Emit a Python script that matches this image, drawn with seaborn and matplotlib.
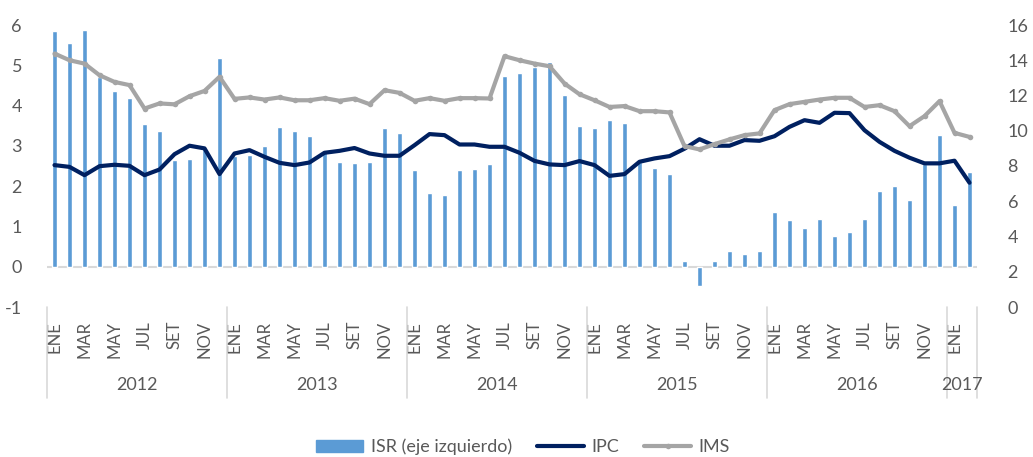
import numpy as np
import pandas as pd
import seaborn as sns
import matplotlib.pyplot as plt
from matplotlib.lines import Line2D
from matplotlib.patches import Patch
import matplotlib.transforms as mtransforms

# data, monthly Jan 2012 - Feb 2017
years = ["2012", "2013", "2014", "2015", "2016", "2017"]
months = ["ENE", "FEB", "MAR", "ABR", "MAY", "JUN", "JUL", "AGO", "SET", "OCT", "NOV", "DIC"]
n_months = [12, 12, 12, 12, 12, 2]

isr = [5.84, 5.55, 5.87, 4.72, 4.37, 4.20, 3.54, 3.38, 2.64, 2.67, 2.95, 5.18,
       2.75, 2.78, 2.99, 3.47, 3.38, 3.25, 2.85, 2.61, 2.57, 2.61, 3.44, 3.33,
       2.41, 1.83, 1.77, 2.41, 2.43, 2.54, 4.73, 4.81, 4.95, 5.08, 4.25, 3.49,
       3.44, 3.65, 3.57, 2.60, 2.46, 2.31, 0.13, -0.47, 0.13, 0.40, 0.32, 0.40,
       1.35, 1.17, 0.95, 1.19, 0.77, 0.85, 1.19, 1.88, 2.01, 1.66, 2.55, 3.28,
       1.54, 2.35]

ipc = [8.05, 7.95, 7.48, 7.99, 8.07, 8.01, 7.48, 7.80, 8.67, 9.15, 9.00, 7.54,
       8.71, 8.90, 8.52, 8.18, 8.05, 8.20, 8.75, 8.86, 9.02, 8.71, 8.58, 8.58,
       9.18, 9.81, 9.75, 9.22, 9.22, 9.09, 9.09, 8.75, 8.29, 8.09, 8.05, 8.28,
       8.05, 7.44, 7.54, 8.24, 8.43, 8.56, 8.98, 9.52, 9.15, 9.15, 9.47, 9.43,
       9.69, 10.22, 10.60, 10.45, 11.02, 11.00, 10.03, 9.37, 8.86, 8.47, 8.15, 8.15,
       8.30, 7.05]

ims = [14.38, 14.00, 13.81, 13.15, 12.77, 12.59, 11.26, 11.55, 11.50, 11.96, 12.26, 13.06,
       11.81, 11.89, 11.77, 11.89, 11.73, 11.73, 11.85, 11.70, 11.82, 11.51, 12.30, 12.15,
       11.70, 11.85, 11.70, 11.85, 11.85, 11.83, 14.23, 14.00, 13.81, 13.66, 12.68, 12.07,
       11.73, 11.35, 11.40, 11.11, 11.11, 11.04, 9.13, 8.94, 9.24, 9.51, 9.75, 9.85,
       11.17, 11.51, 11.64, 11.77, 11.87, 11.87, 11.35, 11.45, 11.11, 10.26, 10.83, 11.68,
       9.88, 9.65]

sns.set_style("white")
plt.rcParams['font.family'] = ['Lato', 'DejaVu Sans']
plt.rcParams['axes.unicode_minus'] = False

bar_col = "#5B9BD5"
ipc_col = "#002060"
ims_col = "#A5A5A5"
txt_col = "#595959"
sep_col = "#D9D9D9"

idx = np.arange(len(isr))
df = pd.DataFrame({"i": idx, "ISR": isr, "IPC": ipc, "IMS": ims})

W, H = 1033, 457
fig = plt.figure(figsize=(W / 100, H / 100), dpi=100)
ax = fig.add_axes([47 / W, 1 - 307 / H, 930 / W, 282 / H])

sns.barplot(data=df, x="i", y="ISR", color=bar_col, saturation=1, width=0.32, ax=ax)
ax.axhline(0, color=sep_col, lw=1.5, zorder=0)

ax2 = ax.twinx()
sns.lineplot(data=df, x="i", y="IPC", color=ipc_col, lw=3, ax=ax2)
sns.lineplot(data=df, x="i", y="IMS", color=ims_col, lw=3, marker="o", markersize=4,
             markeredgewidth=0, ax=ax2)

ax.set_xlim(-0.5, len(isr) - 0.5)
ax.set_ylim(-1, 6)
ax2.set_ylim(0, 16)
ax.set_yticks(range(-1, 7))
ax2.set_yticks(range(0, 17, 2))
ax.set_ylabel("")
ax2.set_ylabel("")
ax.set_xlabel("")
ax2.set_xlabel("")

# month labels every other month
labels = []
for y, n in zip(years, n_months):
    for m in range(n):
        labels.append(months[m] if m % 2 == 0 else "")
ax.set_xticks(idx)
ax.set_xticklabels(labels, rotation=90, fontsize=12, color=txt_col)
ax.tick_params(axis="x", length=0, pad=10)
ax.tick_params(axis="y", length=0, pad=18, labelsize=13, labelcolor=txt_col)
ax2.tick_params(axis="y", length=0, pad=22, labelsize=13, labelcolor=txt_col)

for a in (ax, ax2):
    for s in a.spines.values():
        s.set_visible(False)

# year groups and separators under the axis
trans = mtransforms.blended_transform_factory(ax.transData, ax.transAxes)
start = 0
bounds = [-0.5]
for y, n in zip(years, n_months):
    ax.text(start + n / 2 - 0.5, -0.275, y, transform=trans, ha="center", va="center",
            fontsize=13, color=txt_col)
    start += n
    bounds.append(start - 0.5)
for b in bounds:
    ax.plot([b, b], [0, -0.323], transform=trans, color=sep_col, lw=1.2, clip_on=False)

handles = [Patch(color=bar_col),
           Line2D([], [], color=ipc_col, lw=3),
           Line2D([], [], color=ims_col, lw=3, marker="o", markersize=4, markeredgewidth=0)]
fig.legend(handles, ["ISR (eje izquierdo)", "IPC", "IMS"], loc="center",
           bbox_to_anchor=(523 / W, 1 - 447 / H), ncol=3, frameon=False,
           fontsize=13, labelcolor=txt_col, handlelength=2.6, handletextpad=0.4,
           columnspacing=1.4, handleheight=0.6)

fig.savefig("out.png", dpi=100)
